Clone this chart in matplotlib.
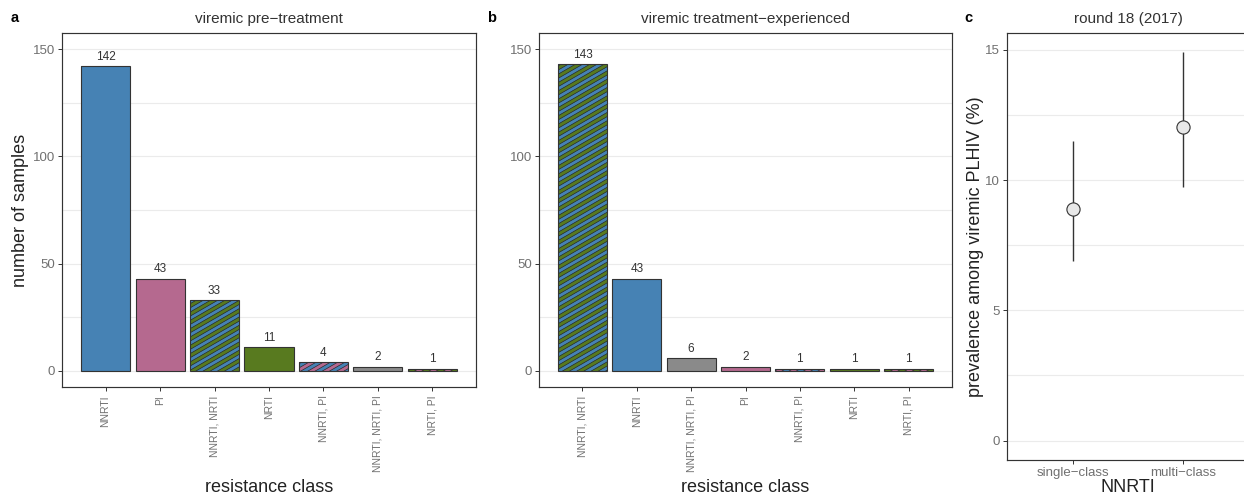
import numpy as np
import matplotlib
matplotlib.use('Agg')
import matplotlib.pyplot as plt
from matplotlib.patches import Polygon
from matplotlib.transforms import IdentityTransform

plt.rcParams['font.family'] = ['Liberation Sans', 'DejaVu Sans']

# panel a: viremic pre-treatment
pre_classes = ['NNRTI', 'PI', 'NNRTI, NRTI', 'NRTI', 'NNRTI, PI', 'NNRTI, NRTI, PI', 'NRTI, PI']
pre_counts = [142, 43, 33, 11, 4, 2, 1]

# panel b: viremic treatment-experienced
exp_classes = ['NNRTI, NRTI', 'NNRTI', 'NNRTI, NRTI, PI', 'PI', 'NNRTI, PI', 'NRTI', 'NRTI, PI']
exp_counts = [143, 43, 6, 2, 1, 1, 1]

# panel c: NNRTI prevalence, round 18 (2017)
nnrti_groups = ['single\u2212class', 'multi\u2212class']
nnrti_prev = [8.9, 12.05]
nnrti_lo = [6.9, 9.75]
nnrti_hi = [11.5, 14.9]

# fill colour / stripe colour per resistance class
blue = '#4682b4'
pink = '#b5698f'
green = '#587a1f'
grey = '#8a8a8a'
class_colors = {
    'NNRTI': (blue, None),
    'PI': (pink, None),
    'NRTI': (green, None),
    'NNRTI, NRTI': (blue, green),
    'NNRTI, PI': (pink, blue),
    'NRTI, PI': (green, pink),
    'NNRTI, NRTI, PI': (grey, None),
}

dark = '#333333'
tick_col = '#707070'
grid_col = '#ebebeb'

fig = plt.figure(figsize=(12.44, 4.97), dpi=100)
W, H = 1244.0, 497.0


def px_axes(left, top, right, bottom):
    return fig.add_axes([left / W, 1 - bottom / H, (right - left) / W, (bottom - top) / H])


def style_axes(ax):
    for s in ax.spines.values():
        s.set_color(dark)
        s.set_linewidth(0.85)
    ax.tick_params(axis='both', colors=dark, length=3, width=0.7)
    ax.set_axisbelow(True)


def stripe_bar(ax, rect, color2, period=7.2, angle=30):
    """ Draws diagonal stripes (display pixels) clipped to a bar """
    (x0, y0), (x1, y1) = ax.transData.transform([(rect.get_x(), rect.get_y()),
                                                 (rect.get_x() + rect.get_width(),
                                                  rect.get_y() + rect.get_height())])
    cx, cy = (x0 + x1) / 2, (y0 + y1) / 2
    half = np.hypot(x1 - x0, y1 - y0) / 2 + period
    th = np.radians(angle)
    u = np.array([np.cos(th), np.sin(th)])
    n = np.array([-np.sin(th), np.cos(th)])
    c = np.array([cx, cy])
    for s in np.arange(-half, half, period):
        a = c + n * s
        b = c + n * (s + period / 2)
        poly = Polygon([a - u * half, a + u * half, b + u * half, b - u * half],
                       closed=True, facecolor=color2, edgecolor='#222222', linewidth=0.45,
                       transform=IdentityTransform(), zorder=2.5)
        ax.add_artist(poly)
        poly.set_clip_path(rect)


def bar_panel(ax, classes, counts, title, ylabel=None):
    x = np.arange(len(classes))
    ax.set_xlim(-0.8, len(classes) - 0.2)
    ax.set_ylim(-7.5, 157.5)
    ax.set_yticks([0, 50, 100, 150])
    ax.set_yticks([25, 75, 125], minor=True)
    ax.tick_params(axis='y', which='minor', length=0)
    ax.grid(axis='y', which='both', color=grid_col, linewidth=0.8)
    fills = [class_colors[c][0] for c in classes]
    bars = ax.bar(x, counts, width=0.9, color=fills, edgecolor='none', zorder=2)
    ax.bar(x, counts, width=0.9, facecolor='none', edgecolor=dark, linewidth=0.8, zorder=3)
    for rect, c in zip(bars, classes):
        stripe = class_colors[c][1]
        if stripe:
            stripe_bar(ax, rect, stripe)
    for xi, v in zip(x, counts):
        ax.annotate(str(v), (xi, v), xytext=(0, 2.5), textcoords='offset points',
                    ha='center', va='bottom', fontsize=8.5, color=dark)
    ax.set_xticks(x)
    ax.set_xticklabels(classes, rotation=90, fontsize=7.5, color=tick_col)
    ax.tick_params(axis='y', labelsize=9.5, labelcolor=tick_col, pad=2)
    ax.tick_params(axis='x', pad=3)
    ax.set_title(title, fontsize=11, color=dark, pad=7)
    ax.set_xlabel('resistance class', fontsize=13, color='#222222', va='center')
    ax.xaxis.set_label_coords(0.5, (387 - 487) / 354.0)
    if ylabel:
        ax.set_ylabel(ylabel, fontsize=13, color='#222222', va='center')
        ax.yaxis.set_label_coords((21 - 62) / 414.0, 0.5)


ax_a = px_axes(62, 33, 476, 387)
style_axes(ax_a)
bar_panel(ax_a, pre_classes, pre_counts, 'viremic pre\u2212treatment', 'number of samples')

ax_b = px_axes(539, 33, 952, 387)
style_axes(ax_b)
bar_panel(ax_b, exp_classes, exp_counts, 'viremic treatment\u2212experienced')

# panel c
ax_c = px_axes(1007, 33, 1249, 460)
style_axes(ax_c)
xc = np.arange(len(nnrti_groups))
ax_c.set_xlim(-0.6, 1.6)
ax_c.set_ylim(-0.745, 15.645)
ax_c.set_yticks([0, 5, 10, 15])
ax_c.set_yticks([2.5, 7.5, 12.5], minor=True)
ax_c.tick_params(axis='y', which='minor', length=0)
ax_c.grid(axis='y', which='both', color=grid_col, linewidth=0.8)
ax_c.vlines(xc, nnrti_lo, nnrti_hi, color=dark, linewidth=1.0, zorder=2)
ax_c.plot(xc, nnrti_prev, 'o', markersize=9.5, markerfacecolor='#e8e8e8',
          markeredgecolor=dark, markeredgewidth=0.8, zorder=3)
ax_c.set_xticks(xc)
ax_c.set_xticklabels(nnrti_groups, fontsize=9.5, color=tick_col)
ax_c.tick_params(axis='y', labelsize=9.5, labelcolor=tick_col, pad=2)
ax_c.tick_params(axis='x', pad=2)
ax_c.set_title('round 18 (2017)', fontsize=11, color=dark, pad=7)
ax_c.set_xlabel('NNRTI', fontsize=13, color='#222222', va='center')
ax_c.xaxis.set_label_coords(0.5, (460 - 488) / 427.0)
ax_c.set_ylabel('prevalence among viremic PLHIV (%)', fontsize=13, color='#222222', va='center')
ax_c.yaxis.set_label_coords((975 - 1007) / 242.0, 0.5)

# panel letters
for lx, letter in [(15, 'a'), (492, 'b'), (968, 'c')]:
    fig.text(lx / W, 1 - 18 / H, letter, fontsize=10.5, fontweight='bold',
             ha='center', va='center', color='black')

fig.savefig('out.png', dpi=100)
